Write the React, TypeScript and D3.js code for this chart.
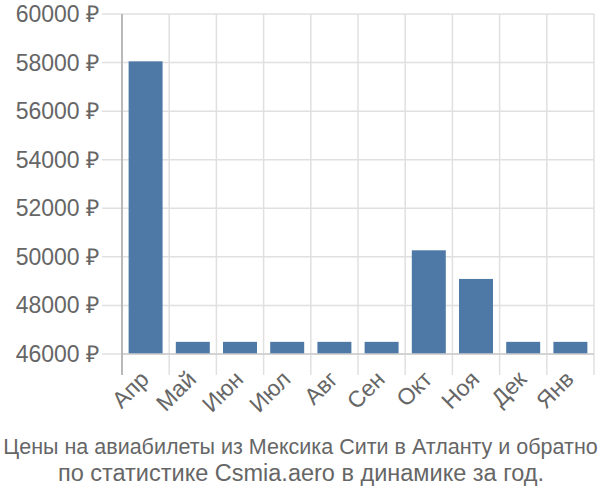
import React from "react";
import * as d3 from "d3";

const categories = ["Апр", "Май", "Июн", "Июл", "Авг", "Сен", "Окт", "Ноя", "Дек", "Янв"];
const prices = [58050, 46500, 46500, 46500, 46500, 46500, 50270, 49090, 46500, 46500];
const yTicks = [46000, 48000, 50000, 52000, 54000, 56000, 58000, 60000];
const titleLines = [
  "Цены на авиабилеты из Мексика Сити в Атланту и обратно",
  "по статистике Csmia.aero в динамике за год.",
];

const W = 600;
const H = 500;
const left = 122;
const right = 594;
const top = 14;
const bottom = 354;
const font = "'Liberation Sans', Arial, sans-serif";

export default function App() {
  const x = d3.scaleBand<string>().domain(categories).range([left, right]).paddingInner(0.28).paddingOuter(0.14);
  const xg = d3.scaleBand<string>().domain(categories).range([left, right]);
  const y = d3.scaleLinear().domain([46000, 60000]).range([bottom, top]);
  const fmt = (v: number) => `${v} ₽`;

  return (
    <svg width={W} height={H} style={{ position: "absolute", left: 0, top: 0 }} fontFamily={font}>
      <rect width={W} height={H} fill="#fff" />
      {yTicks.map((t) => (
        <g key={t}>
          <line x1={102} x2={right} y1={y(t)} y2={y(t)} stroke="#e0e0e0" strokeWidth={1.5} />
          <text x={99} y={y(t)} dy="0.35em" textAnchor="end" fontSize={23} fill="#666">
            {fmt(t)}
          </text>
        </g>
      ))}
      {categories.map((c) => (
        <line
          key={"g" + c}
          x1={xg(c) as number}
          x2={xg(c) as number}
          y1={top}
          y2={375}
          stroke="#e0e0e0"
          strokeWidth={1.5}
        />
      ))}
      <line x1={right} x2={right} y1={top} y2={375} stroke="#e0e0e0" strokeWidth={1.5} />
      {categories.map((c, i) => (
        <rect
          key={"b" + c}
          x={x(c) as number}
          y={y(prices[i])}
          width={x.bandwidth()}
          height={bottom - y(prices[i])}
          fill="#4e79a7"
        />
      ))}
      <line x1={left} x2={right} y1={bottom} y2={bottom} stroke="#ccc" strokeWidth={1.5} />
      <line x1={left} x2={left} y1={top} y2={375} stroke="#aaa" strokeWidth={1.5} />
      {categories.map((c) => {
        const cx = (x(c) as number) + x.bandwidth() / 2 - 1;
        const cy = 375;
        return (
          <text
            key={"l" + c}
            transform={`translate(${cx},${cy}) rotate(-45)`}
            textAnchor="end"
            dy="0.35em"
            fontSize={23}
            fill="#666"
          >
            {c}
          </text>
        );
      })}
      <text x={300.5} y={454} textAnchor="middle" fontSize={21.5} fill="#666">
        {titleLines[0]}
      </text>
      <text x={301} y={480.5} textAnchor="middle" fontSize={23.5} fill="#666">
        {titleLines[1]}
      </text>
    </svg>
  );
}
